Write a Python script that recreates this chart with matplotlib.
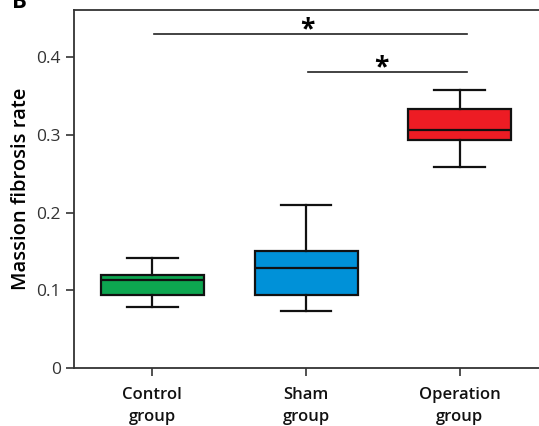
import matplotlib
matplotlib.use("Agg")
import matplotlib.pyplot as plt

categories = ["Control\ngroup", "Sham\ngroup", "Operation\ngroup"]
whisker_low = [0.078, 0.073, 0.259]
q1 = [0.0945, 0.0945, 0.2934]
medians = [0.1137, 0.1289, 0.3071]
q3 = [0.1203, 0.1503, 0.3338]
whisker_high = [0.1414, 0.210, 0.3574]
colors = ["#0DA650", "#0091D8", "#ED1C24"]
yticks = [0, 0.1, 0.2, 0.3, 0.4]
ytick_labels = ["0", "0.1", "0.2", "0.3", "0.4"]

plt.rcParams['font.family'] = ['Open Sans', 'DejaVu Sans']

fig = plt.figure(figsize=(5.39, 4.26), dpi=100)
ax = fig.add_axes([74/539, 1 - 368/426, 1 - 74/539 + 0.01, (368 - 10)/426])

stats = []
for i in range(len(categories)):
    stats.append(dict(med=medians[i], q1=q1[i], q3=q3[i],
                      whislo=whisker_low[i], whishi=whisker_high[i], fliers=[]))
pos = list(range(len(categories)))
bp = ax.bxp(stats, positions=pos, widths=0.67, patch_artist=True, showfliers=False,
            boxprops=dict(linewidth=1.6, edgecolor='#111111'),
            medianprops=dict(color='#111111', linewidth=1.6),
            whiskerprops=dict(color='#111111', linewidth=1.6),
            capprops=dict(color='#111111', linewidth=1.6),
            capwidths=0.33)
for patch, c in zip(bp['boxes'], colors):
    patch.set_facecolor(c)

ax.set_xlim(-0.51, 2.55)
ax.set_ylim(0, 0.461)
ax.set_yticks(yticks)
ax.set_yticklabels(ytick_labels, fontsize=12.5, color='#333333')
ax.set_xticks(pos)
ax.set_xticklabels(categories, fontsize=12, fontweight='semibold', color='#111111', linespacing=1.45)
ax.set_ylabel("Massion fibrosis rate", fontsize=14.5, fontweight='semibold', labelpad=4)
for s in ax.spines.values():
    s.set_linewidth(1.3)
    s.set_color('#333333')
ax.tick_params(axis='both', length=6, width=1.2, color='#333333')
ax.tick_params(axis='x', pad=8)

# significance bars
ax.plot([0.01, 2.045], [0.430, 0.430], color='#222222', lw=1.2)
ax.plot([1.01, 2.045], [0.3818, 0.3818], color='#222222', lw=1.2)
ax.text(1.01, 0.4355, "*", ha='center', va='center', fontsize=19, fontweight='bold')
ax.text(1.49, 0.3865, "*", ha='center', va='center', fontsize=19, fontweight='bold')

fig.text(12/539, 1 - 8/426, "B", fontsize=16, fontweight='bold', ha='left', va='baseline')

fig.savefig("out.png", dpi=100)
